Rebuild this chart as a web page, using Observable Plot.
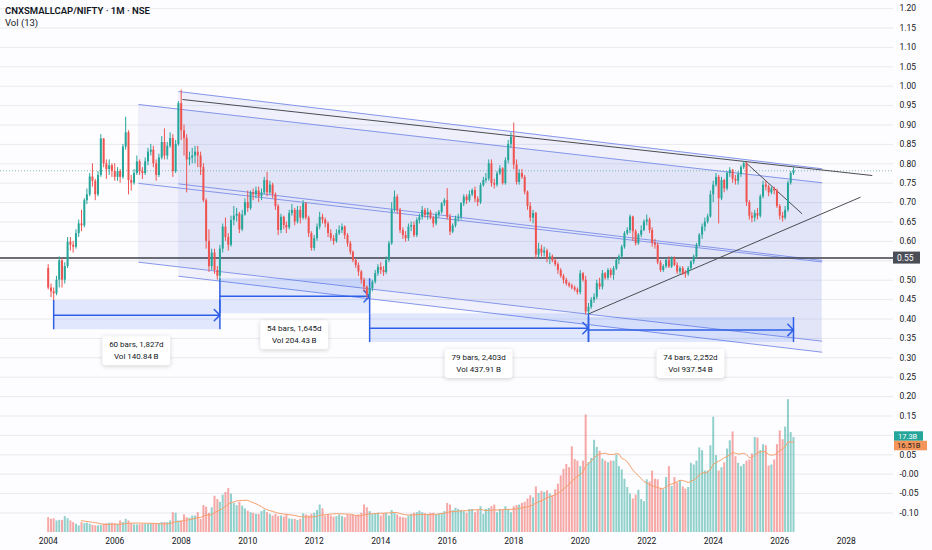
<!DOCTYPE html>
<html><head><meta charset="utf-8">
<script src="https://cdn.jsdelivr.net/npm/d3@7"></script>
<script src="https://cdn.jsdelivr.net/npm/@observablehq/plot@0.6"></script>
<style>
body{margin:0;background:#fdfcfe;}
#chart{position:relative;width:932px;height:550px;background:#fdfcfe;font-family:Roboto,"Noto Sans",sans-serif;overflow:hidden}
#chart svg{position:absolute;left:0;top:0}
.title{position:absolute;left:5px;top:5px;font-size:9.5px;font-weight:600;color:#131722;z-index:5;white-space:nowrap}
.sub{position:absolute;left:5px;top:17px;font-size:9.5px;color:#131722;z-index:5}
</style></head><body>
<div id="chart"></div>
<script>
// ---------- DATA (monthly, Jan 2004 .. Jun 2026) ----------
const firstOpen = 0.53;
const closes = [
 [0.48,0.47,0.465,0.50,0.55,0.50,0.535,0.598,0.59,0.585,0.62,0.645],
 [0.64,0.705,0.72,0.766,0.755,0.72,0.77,0.864,0.80,0.785,0.795,0.78],
 [0.765,0.78,0.765,0.843,0.88,0.757,0.75,0.775,0.805,0.78,0.775,0.805],
 [0.83,0.835,0.80,0.77,0.815,0.855,0.82,0.845,0.865,0.78,0.85,0.955],
 [0.885,0.865,0.81,0.815,0.82,0.83,0.82,0.79,0.705,0.60,0.535,0.57],
 [0.525,0.51,0.58,0.637,0.61,0.59,0.654,0.665,0.67,0.63,0.668,0.70],
 [0.685,0.725,0.72,0.73,0.715,0.725,0.757,0.725,0.745,0.72,0.69,0.628],
 [0.662,0.641,0.635,0.672,0.68,0.65,0.68,0.66,0.697,0.66,0.62,0.582],
 [0.607,0.637,0.662,0.655,0.645,0.62,0.607,0.60,0.62,0.628,0.637,0.615],
 [0.594,0.572,0.551,0.538,0.521,0.50,0.482,0.462,0.478,0.495,0.517,0.533],
 [0.525,0.52,0.551,0.594,0.68,0.714,0.68,0.628,0.615,0.607,0.637,0.641],
 [0.615,0.654,0.662,0.68,0.667,0.675,0.66,0.645,0.668,0.675,0.697,0.705],
 [0.662,0.624,0.64,0.658,0.662,0.697,0.714,0.705,0.72,0.731,0.709,0.70],
 [0.744,0.757,0.761,0.80,0.749,0.745,0.774,0.787,0.749,0.808,0.85,0.868],
 [0.797,0.752,0.775,0.765,0.727,0.69,0.66,0.672,0.565,0.58,0.57,0.575],
 [0.555,0.56,0.55,0.54,0.525,0.51,0.50,0.49,0.485,0.48,0.475,0.468],
 [0.5165,0.50,0.418,0.43,0.448,0.456,0.491,0.482,0.5165,0.505,0.525,0.512],
 [0.529,0.551,0.56,0.585,0.62,0.628,0.663,0.625,0.594,0.616,0.628,0.65],
 [0.655,0.628,0.595,0.59,0.545,0.525,0.535,0.551,0.534,0.556,0.538,0.521],
 [0.53,0.517,0.515,0.53,0.547,0.56,0.59,0.616,0.637,0.65,0.663,0.72],
 [0.745,0.765,0.71,0.757,0.735,0.775,0.783,0.76,0.755,0.772,0.79,0.80],
 [0.70,0.665,0.66,0.672,0.665,0.715,0.745,0.74,0.725,0.735,0.73,0.69],
 [0.665,0.66,0.68,0.75,0.775,0.782]
].flat();
const highs = [
 [0.54,0.49,0.48,0.51,0.56,0.555,0.545,0.61,0.61,0.60,0.63,0.655],
 [0.68,0.71,0.735,0.775,0.80,0.76,0.78,0.875,0.865,0.81,0.81,0.80],
 [0.80,0.79,0.785,0.85,0.92,0.885,0.77,0.785,0.82,0.81,0.79,0.815],
 [0.84,0.85,0.845,0.81,0.825,0.87,0.89,0.855,0.88,0.875,0.86,0.96],
 [0.99,0.90,0.875,0.83,0.84,0.845,0.845,0.83,0.80,0.71,0.63,0.58],
 [0.58,0.535,0.59,0.645,0.66,0.62,0.665,0.69,0.685,0.675,0.68,0.71],
 [0.73,0.73,0.735,0.74,0.74,0.735,0.765,0.778,0.755,0.75,0.725,0.695],
 [0.67,0.665,0.65,0.68,0.695,0.685,0.69,0.69,0.705,0.70,0.665,0.625],
 [0.615,0.645,0.675,0.67,0.66,0.65,0.63,0.615,0.63,0.64,0.645,0.64],
 [0.62,0.60,0.575,0.555,0.545,0.525,0.505,0.485,0.485,0.50,0.525,0.54],
 [0.545,0.535,0.56,0.60,0.70,0.73,0.72,0.685,0.635,0.625,0.645,0.65],
 [0.65,0.66,0.67,0.69,0.685,0.685,0.68,0.665,0.675,0.68,0.70,0.71],
 [0.736,0.67,0.645,0.665,0.67,0.70,0.72,0.72,0.73,0.735,0.74,0.715],
 [0.75,0.765,0.775,0.81,0.81,0.76,0.78,0.795,0.79,0.815,0.86,0.88],
 [0.905,0.81,0.785,0.785,0.77,0.73,0.70,0.68,0.675,0.595,0.59,0.585],
 [0.58,0.57,0.565,0.555,0.545,0.53,0.515,0.505,0.495,0.49,0.485,0.48],
 [0.525,0.52,0.51,0.44,0.455,0.465,0.50,0.505,0.525,0.52,0.53,0.53],
 [0.535,0.555,0.565,0.59,0.625,0.635,0.668,0.665,0.63,0.62,0.64,0.655],
 [0.668,0.66,0.635,0.605,0.595,0.55,0.54,0.556,0.56,0.56,0.56,0.545],
 [0.535,0.535,0.525,0.535,0.55,0.565,0.595,0.62,0.645,0.66,0.67,0.73],
 [0.755,0.775,0.77,0.765,0.76,0.78,0.79,0.785,0.77,0.78,0.795,0.806],
 [0.803,0.705,0.675,0.68,0.685,0.72,0.755,0.755,0.745,0.74,0.74,0.735],
 [0.695,0.675,0.69,0.755,0.78,0.79]
].flat();
const lows = [
 [0.475,0.455,0.447,0.46,0.48,0.48,0.49,0.53,0.575,0.57,0.58,0.61],
 [0.625,0.635,0.695,0.715,0.74,0.705,0.715,0.765,0.79,0.76,0.77,0.765],
 [0.755,0.755,0.75,0.76,0.835,0.72,0.73,0.745,0.77,0.77,0.76,0.77],
 [0.795,0.82,0.79,0.755,0.765,0.81,0.81,0.81,0.84,0.765,0.775,0.845],
 [0.86,0.82,0.725,0.795,0.80,0.80,0.79,0.77,0.70,0.58,0.52,0.525],
 [0.515,0.50,0.497,0.57,0.60,0.575,0.585,0.64,0.65,0.62,0.625,0.665],
 [0.675,0.68,0.705,0.71,0.70,0.705,0.72,0.715,0.72,0.71,0.68,0.615],
 [0.62,0.63,0.62,0.63,0.665,0.64,0.645,0.645,0.655,0.655,0.61,0.575],
 [0.575,0.60,0.63,0.645,0.635,0.61,0.60,0.59,0.595,0.615,0.62,0.605],
 [0.585,0.565,0.545,0.53,0.51,0.49,0.47,0.453,0.455,0.47,0.49,0.51],
 [0.515,0.51,0.515,0.545,0.59,0.675,0.67,0.62,0.605,0.598,0.60,0.625],
 [0.61,0.61,0.645,0.655,0.66,0.655,0.655,0.635,0.64,0.66,0.67,0.69],
 [0.655,0.615,0.62,0.635,0.65,0.655,0.69,0.695,0.70,0.715,0.70,0.69],
 [0.695,0.74,0.75,0.755,0.74,0.735,0.74,0.77,0.745,0.745,0.80,0.84],
 [0.785,0.745,0.745,0.76,0.72,0.68,0.65,0.645,0.555,0.555,0.56,0.56],
 [0.545,0.54,0.545,0.535,0.515,0.505,0.49,0.485,0.48,0.475,0.47,0.462],
 [0.462,0.495,0.41,0.412,0.425,0.44,0.45,0.475,0.475,0.50,0.50,0.505],
 [0.50,0.525,0.54,0.555,0.58,0.615,0.62,0.60,0.588,0.59,0.61,0.625],
 [0.64,0.62,0.585,0.58,0.54,0.52,0.52,0.53,0.53,0.53,0.535,0.515],
 [0.515,0.512,0.505,0.51,0.525,0.54,0.555,0.585,0.605,0.625,0.645,0.66],
 [0.70,0.74,0.645,0.705,0.725,0.73,0.765,0.75,0.745,0.745,0.765,0.785],
 [0.69,0.655,0.648,0.65,0.655,0.66,0.71,0.73,0.715,0.72,0.72,0.685],
 [0.655,0.65,0.655,0.675,0.745,0.77]
].flat();
// volume in billions
const volumes = [
 [2.7,2.4,2.5,2.1,2.2,2.2,2.9,2.5,2.1,1.8,1.5,1.2],
 [1.8,1.6,1.7,1.5,1.3,1.2,1.2,1.3,1.5,1.6,1.7,1.7],
 [1.6,1.5,2.1,1.8,2.4,2.1,1.6,1.4,1.4,1.4,1.5,1.5],
 [1.5,1.6,1.6,1.5,1.6,1.8,1.8,1.8,2.1,3.6,3.5,2.1],
 [2.1,3.2,2.7,2.6,3.0,3.0,3.6,2.4,4.9,4.6,3.5,4.5],
 [6.6,6.0,5.5,6.8,7.3,8.0,7.0,5.3,4.9,5.5,4.8,4.3],
 [3.9,3.6,3.5,3.3,3.3,3.8,4.1,3.6,3.3,3.0,3.3,2.9],
 [3.0,2.8,3.3,2.5,2.4,2.4,2.2,2.4,3.4,3.2,3.0,3.3],
 [3.5,4.0,5.0,4.3,3.0,3.2,3.0,2.8,2.9,3.2,2.9,2.7],
 [3.2,3.1,3.1,3.0,3.2,3.5,5.0,4.5,3.8,3.3,3.4,3.5],
 [3.0,3.4,3.5,3.0,4.0,3.5,3.2,2.8,2.7,2.6,3.0,3.3],
 [3.5,3.6,3.9,3.6,3.4,3.3,3.5,3.5,3.2,3.4,3.5,3.8],
 [5.3,5.0,4.0,4.4,4.2,4.0,3.8,3.5,4.2,4.2,3.6,4.0],
 [4.7,3.3,4.2,4.4,4.7,5.0,3.6,4.2,4.1,4.7,4.2,3.6],
 [4.7,4.9,5.0,5.3,5.5,6.1,6.7,6.3,8.3,7.1,7.5,7.3],
 [7.6,7.0,6.7,7.8,8.8,10.3,11.5,12.4,11.8,15.6,13.3,13.0],
 [12.0,13.0,21.4,12.7,13.5,16.8,15.5,14.8,13.4,13.0,12.7,13.0],
 [13.0,14.1,12.0,11.4,9.7,8.2,7.0,6.1,6.8,7.7,6.0,5.6],
 [9.6,9.2,11.2,9.7,9.6,8.0,7.8,10.0,12.0,8.4,10.0,9.0],
 [9.4,8.3,7.9,8.2,12.6,12.3,13.0,15.4,14.9,11.2,11.2,15.8],
 [21.0,14.0,11.2,11.8,12.7,15.2,16.7,18.3,13.8,12.6,12.0,12.4],
 [13.0,13.2,14.3,17.3,17.2,14.9,16.0,15.8,12.1,12.3,13.2,16.0],
 [18.5,16.9,19.2,24.2,18.2,17.3]
].flat();

// ---------- drawings (date / price anchors) ----------
const channels = [
 {id:"A", start:"2006-09-19", end:"2027-04-12", upper:[0.9528,0.751], lower:[0.5464,0.3428]},
 {id:"B", start:"2007-12-02", end:"2027-04-12", upper:[0.9863,0.7871], lower:[0.5103,0.3144]}
];
const trendLines = [
 {x1:"2008-01-15", y1:0.9657, x2:"2028-10-13", y2:0.7698},
 {x1:"2020-04-01", y1:0.413, x2:"2028-06-06", y2:0.714},
 {x1:"2024-12-20", y1:0.804, x2:"2026-09-04", y2:0.671}
];
const levelLine = 0.557;
const levelLabel = "0.55";
const ranges = [
 {start:"2004-03-01", end:"2009-03-01", top:0.4477, bottom:0.3722, line1:"60 bars, 1,827d", line2:"Vol 140.84\u2009B"},
 {start:"2009-03-01", end:"2013-09-01", top:0.5036, bottom:0.4134, line1:"54 bars, 1,645d", line2:"Vol 204.43\u2009B"},
 {start:"2013-09-01", end:"2020-04-01", top:0.4134, bottom:0.3394, line1:"79 bars, 2,403d", line2:"Vol 437.91\u2009B"},
 {start:"2020-04-01", end:"2026-06-01", top:0.4039, bottom:0.3394, line1:"74 bars, 2,252d", line2:"Vol 937.54\u2009B"}
];
const volLabel = "17.3B";
const maLabel = "16.51B";
const yTicks = d3.range(-2, 25).map(i => +(i * 0.05).toFixed(2));
const hiddenTickLabels = [0.10, 0.55]; // covered by the value labels in the reference
const xTickYears = d3.range(2004, 2029, 2);

// ---------- build tables ----------
const GREEN = "#26a69a", RED = "#ef5350";
const candles = closes.map((c, i) => {
  const open = i === 0 ? firstOpen : closes[i - 1];
  return {date: new Date(Date.UTC(2004, i, 1)), open, close: c, high: highs[i], low: lows[i],
          vol: volumes[i], color: c >= open ? GREEN : RED};
});
const D = s => new Date(s + "T00:00:00Z");
const chanPts = channels.flatMap(c => [
  {id:c.id, date:D(c.start), hi:c.upper[0], lo:c.lower[0]},
  {id:c.id, date:D(c.end), hi:c.upper[1], lo:c.lower[1]}]);
const chanLinks = channels.flatMap(c => [
  {x1:D(c.start), x2:D(c.end), y1:c.upper[0], y2:c.upper[1], dash:null},
  {x1:D(c.start), x2:D(c.end), y1:c.lower[0], y2:c.lower[1], dash:null},
  {x1:D(c.start), x2:D(c.end), y1:(c.upper[0]+c.lower[0])/2, y2:(c.upper[1]+c.lower[1])/2, dash:"4,3"}]);
const tl = trendLines.map(t => ({...t, x1:D(t.x1), x2:D(t.x2)}));
const rng = ranges.map(r => ({...r, s:D(r.start), e:D(r.end), mid:(r.top + r.bottom) / 2}));
const rngEdges = rng.flatMap(r => [{x:r.s, y1:r.bottom, y2:r.top}, {x:r.e, y1:r.bottom, y2:r.top}]);

// ---------- layout ----------
const W = 932, H = 550, MR = 39, MB = 18;
const YR = 365.2425 * 864e5, T04 = Date.UTC(2004, 0, 1), PX_YR = 33.25;
const xDomain = [new Date(T04 - 47.7 / PX_YR * YR), new Date(T04 + (W - MR - 47.7) / PX_YR * YR)];
const yDomain = [-0.1503, 1.2209];
const FONT = "Roboto, 'Noto Sans', sans-serif";
const common = {width: W, height: H, marginLeft: 0, marginRight: MR, marginTop: 0, marginBottom: MB};

const pricePlot = Plot.plot({
  ...common,
  style: {background: "transparent", fontFamily: FONT, fontSize: "8.5px", color: "#131722"},
  x: {type: "utc", domain: xDomain},
  y: {domain: yDomain},
  color: {type: "identity"},
  marks: [
    Plot.gridY(yTicks, {stroke: "#e8eaf0", strokeOpacity: 1}),
    Plot.areaY(chanPts, {x: "date", y1: "lo", y2: "hi", z: "id", fill: "#5c6fe0", fillOpacity: 0.085}),
    Plot.link(chanLinks, {x1: "x1", y1: "y1", x2: "x2", y2: "y2", stroke: "#8596ea", strokeWidth: 1, strokeDasharray: "dash"}),
    Plot.rect(rng, {x1: "s", x2: "e", y1: "bottom", y2: "top", fill: "#2962ff", fillOpacity: 0.13}),
    Plot.ruleY([levelLine], {stroke: "#3c3f47", strokeWidth: 1.5}),
    Plot.ruleY([closes[closes.length - 1]], {stroke: "#86b8b2", strokeWidth: 1, strokeDasharray: "1,2"}),
    Plot.ruleX(rngEdges, {x: "x", y1: "y1", y2: "y2", stroke: "#2e5fe6", strokeWidth: 1.5}),
    Plot.arrow(rng, {x1: "s", x2: "e", y1: "mid", y2: "mid", stroke: "#2e5fe6", strokeWidth: 1.5, headLength: 8, headAngle: 90}),
    Plot.link(tl, {x1: "x1", y1: "y1", x2: "x2", y2: "y2", stroke: "#4a4c52", strokeWidth: 1}),
    Plot.ruleX(candles, {x: "date", y1: "low", y2: "high", stroke: "color", strokeWidth: 1}),
    Plot.ruleX(candles, {x: "date", y1: "open", y2: "close", stroke: "color", strokeWidth: 2}),
    Plot.axisY({anchor: "right", ticks: yTicks.filter(v => !hiddenTickLabels.includes(v)), tickSize: 0, tickPadding: 6,
      tickFormat: d => d === 0 ? "-0.00" : d.toFixed(2)}),
    Plot.axisX({ticks: xTickYears.map(y => new Date(Date.UTC(y, 0, 1))), tickSize: 0, tickPadding: 5,
      tickFormat: d3.utcFormat("%Y")})
  ]
});

const volMax = (H - MB) / 5.49;
const volPlot = Plot.plot({
  ...common,
  style: {background: "transparent", fontFamily: FONT, fontSize: "8.5px"},
  x: {type: "utc", domain: xDomain, axis: null},
  y: {domain: [0, volMax], axis: null},
  color: {type: "identity"},
  marks: [
    Plot.ruleX(candles, {x: "date", y1: 0, y2: "vol", stroke: "color", strokeOpacity: 0.5, strokeWidth: 2}),
    Plot.lineY(candles, Plot.windowY({k: 13, anchor: "end", reduce: "mean", strict: true},
      {x: "date", y: "vol", stroke: "#f5a06a", strokeWidth: 1}))
  ]
});

const chart = document.getElementById("chart");
chart.appendChild(pricePlot);
chart.appendChild(volPlot);

// ---------- overlays using the plots' scales ----------
const sx = pricePlot.scale("x"), sy = pricePlot.scale("y");
const gp = d3.select(pricePlot).append("g").attr("font-family", FONT).attr("font-size", "8px").attr("text-anchor", "start");
rng.forEach(r => {
  const cx = (sx.apply(r.s) + sx.apply(r.e)) / 2;
  const top = sy.apply(r.bottom) + 7;
  gp.append("rect").attr("x", cx - 34).attr("y", top).attr("width", 68).attr("height", 29).attr("rx", 3)
    .attr("fill", "#fff").style("filter", "drop-shadow(0 1px 2px rgba(0,0,0,0.18))");
  gp.append("text").attr("x", cx).attr("y", top + 8.5).attr("text-anchor", "middle")
    .attr("dominant-baseline", "central").attr("fill", "#131722").text(r.line1);
  gp.append("text").attr("x", cx).attr("y", top + 20.5).attr("text-anchor", "middle")
    .attr("dominant-baseline", "central").attr("fill", "#131722").text(r.line2);
});
const ly = sy.apply(levelLine);
gp.append("rect").attr("x", W - MR).attr("y", ly - 6).attr("width", 27).attr("height", 12).attr("fill", "#4b4e57");
gp.append("text").attr("x", W - MR + 4).attr("y", ly).attr("dominant-baseline", "central").attr("text-anchor", "start")
  .attr("fill", "#fff").attr("font-size", "8.5px").text(levelLabel);

const vy = volPlot.scale("y");
const gv = d3.select(volPlot).append("g").attr("font-family", FONT).attr("font-size", "7.5px").attr("text-anchor", "start");
const lastVol = volumes[volumes.length - 1];
const lastMA = d3.mean(volumes.slice(-13));
const y1 = vy.apply(lastVol) - 1;
const y2 = Math.max(vy.apply(lastMA), y1 + 9.5);
gv.append("rect").attr("x", W - MR + 1).attr("y", y1 - 4.75).attr("width", 29).attr("height", 9.5).attr("fill", "#26a69a");
gv.append("text").attr("x", W - MR + 5).attr("y", y1).attr("dominant-baseline", "central").attr("text-anchor", "start").attr("fill", "#fff").text(volLabel);
gv.append("rect").attr("x", W - MR + 1).attr("y", y2 - 4.75).attr("width", 33).attr("height", 9.5).attr("fill", "#f5955a");
gv.append("text").attr("x", W - MR + 4).attr("y", y2).attr("dominant-baseline", "central").attr("text-anchor", "start").attr("fill", "#1e1e1e").text(maLabel);

const t = document.createElement("div"); t.className = "title"; t.textContent = "CNXSMALLCAP/NIFTY · 1M · NSE"; chart.appendChild(t);
const s = document.createElement("div"); s.className = "sub"; s.textContent = "Vol (13)"; chart.appendChild(s);
</script>
</body></html>
